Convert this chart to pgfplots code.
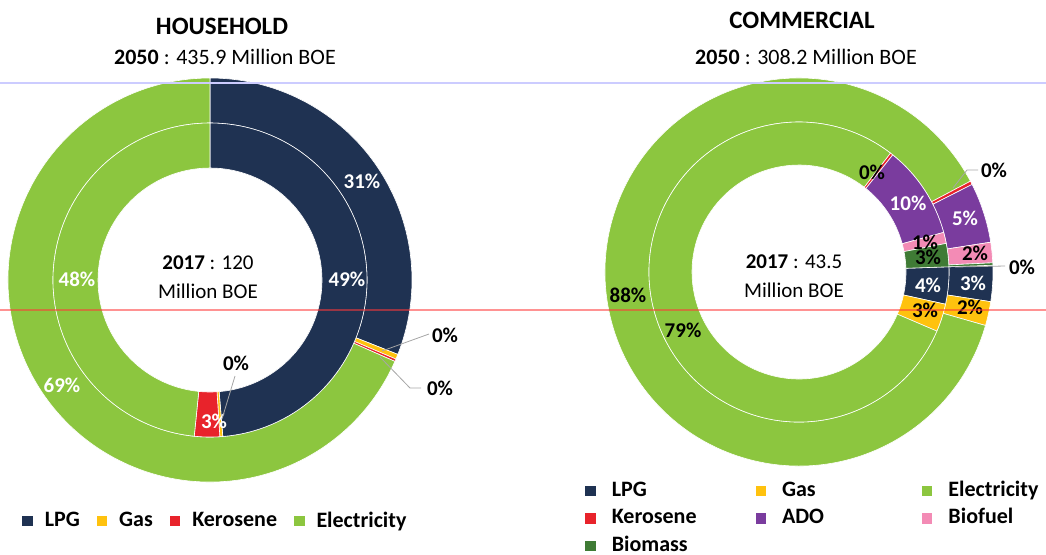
\documentclass[border=0pt]{standalone}
\usepackage{pgfplots}
\pgfplotsset{compat=1.18}
\usepackage{pgfplotstable}
\usepackage{fontspec}
\setmainfont{Carlito}

\definecolor{lpgc}{HTML}{1F3252}
\definecolor{gasc}{HTML}{FFC20E}
\definecolor{kerc}{HTML}{E8232B}
\definecolor{elec}{HTML}{8CC63F}
\definecolor{adoc}{HTML}{7A3C9E}
\definecolor{bioc}{HTML}{F38BB5}
\definecolor{bmsc}{HTML}{3F7B35}

% Household 2050 (outer ring) and 2017 (inner ring), shares in %
\pgfplotstableread{
value col
31.0 lpgc
0.4  gasc
0.2  kerc
68.4 elec
}\hhOuter
\pgfplotstableread{
value col
48.7 lpgc
0.3  gasc
2.6  kerc
48.4 elec
}\hhInner
% Commercial 2050 (outer) and 2017 (inner)
\pgfplotstableread{
value col
3.0  lpgc
2.0  gasc
87.8 elec
0.3  kerc
5.0  adoc
1.7  bioc
0.2  bmsc
}\coOuter
\pgfplotstableread{
value col
4.0  lpgc
3.0  gasc
79.0 elec
0.3  kerc
10.0 adoc
1.2  bioc
2.5  bmsc
}\coInner

% #1 table, #2 cx, #3 cy, #4 r inner, #5 r outer, #6 start angle (clockwise from north)
\newcommand\ring[6]{%
  \pgfplotstablegetrowsof{#1}\pgfmathtruncatemacro\nrows{\pgfplotsretval-1}%
  \xdef\cumang{#6}%
  \foreach \i in {0,...,\nrows}{%
    \pgfplotstablegetelem{\i}{value}\of{#1}\let\val\pgfplotsretval
    \pgfplotstablegetelem{\i}{col}\of{#1}\let\col\pgfplotsretval
    \pgfmathsetmacro\aone{\cumang}%
    \pgfmathsetmacro\atwo{\cumang+3.6*\val}%
    \xdef\cumang{\atwo}%
    \pgfmathsetmacro\sa{90-\aone}\pgfmathsetmacro\ea{90-\atwo}%
    \pgfmathsetmacro\px{#2+#5*cos(\sa)}\pgfmathsetmacro\py{#3-#5*sin(\sa)}%
    \pgfmathsetmacro\qx{#2+#4*cos(\ea)}\pgfmathsetmacro\qy{#3-#4*sin(\ea)}%
    \pgfmathsetmacro\ro{#5*0.5}\pgfmathsetmacro\ri{#4*0.5}%
    \edef\tmp{\noexpand\fill[\col, draw=white, line width=0.3pt] (axis cs:\px,\py) arc[start angle=\sa, end angle=\ea, radius=\ro pt] -- (axis cs:\qx,\qy) arc[start angle=\ea, end angle=\sa, radius=\ri pt] -- cycle;}%
    \tmp
  }%
}

\pgfplotsset{
  canvas/.style={x=0.5pt, y=0.5pt, xmin=0, xmax=1046, ymin=0, ymax=554,
    y dir=reverse, hide axis, clip=false,
    legend image code/.code={\fill[##1] (0pt,-2.6pt) rectangle (5.2pt,2.6pt);},
    legend cell align=left},
}
\tikzset{
  lab/.style={font=\fontsize{10.5}{12}\selectfont\bfseries, inner sep=0pt},
  wl/.style={lab, text=white},
  lead/.style={draw=gray!70, line width=0.4pt},
}

\begin{document}
\begin{tikzpicture}
% ---------------- HOUSEHOLD ----------------
\begin{axis}[canvas, name=hh, legend columns=4,
  legend style={at={(axis cs:16,521)}, anchor=west, draw=none, fill=none,
    font=\fontsize{11}{13}\selectfont\bfseries,
    /tikz/every odd column/.append style={column sep=4pt},
    /tikz/every even column/.append style={column sep=6.5pt}}]
\addlegendimage{fill=lpgc, draw=none}\addlegendentry{LPG}
\addlegendimage{fill=gasc, draw=none}\addlegendentry{Gas}
\addlegendimage{fill=kerc, draw=none}\addlegendentry{Kerosene}
\addlegendimage{fill=elec, draw=none}\addlegendentry{Electricity}
\ring{\hhOuter}{210}{280}{157}{202}{0}
\ring{\hhInner}{210}{280}{112}{157}{0}
\node[font=\fontsize{12.5}{15}\selectfont\bfseries] at (axis cs:222,26) {HOUSEHOLD};
\node[font=\fontsize{11}{13}\selectfont] at (axis cs:225,57) {\textbf{2050} : 435.9 Million BOE};
\node[font=\fontsize{10.5}{14.5}\selectfont, align=center] at (axis cs:208,277) {\textbf{2017} : 120\\Million BOE};
\node[wl] at (axis cs:362,181) {31\%};
\node[wl] at (axis cs:347,279) {49\%};
\node[wl] at (axis cs:77,279) {48\%};
\node[wl] at (axis cs:62,385) {69\%};
\node[wl] at (axis cs:214,421) {3\%};
\node[lab] at (axis cs:236,363) {0\%};
\draw[lead] (axis cs:235,376) -- (axis cs:222,419);
\node[lab] at (axis cs:445,335) {0\%};
\draw[lead] (axis cs:429,334) -- (axis cs:382,351);
\node[lab] at (axis cs:440,388) {0\%};
\draw[lead] (axis cs:421,388) -- (axis cs:410,388) -- (axis cs:380,357);
\path (axis cs:0,0) rectangle (axis cs:1046,554);
\end{axis}
% ---------------- COMMERCIAL ----------------
\begin{axis}[canvas, name=co, legend columns=3,
  legend style={at={(axis cs:579,473)}, anchor=north west, draw=none, fill=none,
    font=\fontsize{11}{13}\selectfont\bfseries, row sep=0pt,
    nodes={text height=7.5pt, text depth=2.2pt},
    /tikz/every odd column/.append style={column sep=6pt},
    /tikz/column 2/.style={column sep=27.5pt},
    /tikz/column 4/.style={column sep=47pt}}]
\addlegendimage{fill=lpgc, draw=none}\addlegendentry{LPG}
\addlegendimage{fill=gasc, draw=none}\addlegendentry{Gas}
\addlegendimage{fill=elec, draw=none}\addlegendentry{Electricity}
\addlegendimage{fill=kerc, draw=none}\addlegendentry{Kerosene}
\addlegendimage{fill=adoc, draw=none}\addlegendentry{ADO}
\addlegendimage{fill=bioc, draw=none}\addlegendentry{Biofuel}
\addlegendimage{fill=bmsc, draw=none}\addlegendentry{Biomass}
\ring{\coOuter}{799}{272}{150}{194}{88}
\ring{\coInner}{799}{272}{107}{150}{88}
\node[font=\fontsize{12.5}{15}\selectfont\bfseries] at (axis cs:802,20) {COMMERCIAL};
\node[font=\fontsize{11}{13}\selectfont] at (axis cs:806,57) {\textbf{2050} : 308.2 Million BOE};
\node[font=\fontsize{10.5}{14.5}\selectfont, align=center] at (axis cs:794,276) {\textbf{2017} : 43.5\\Million BOE};
\node[lab] at (axis cs:872,172) {0\%};
\node[wl] at (axis cs:908,203) {10\%};
\node[wl] at (axis cs:965,218) {5\%};
\node[lab] at (axis cs:994,170) {0\%};
\draw[lead] (axis cs:978,170) -- (axis cs:967,170) -- (axis cs:953,188);
\node[lab] at (axis cs:925,242) {1\%};
\node[lab] at (axis cs:928,257) {3\%};
\node[lab] at (axis cs:975,253) {2\%};
\node[lab] at (axis cs:1022,267) {0\%};
\draw[lead] (axis cs:1005,266) -- (axis cs:955,267);
\node[wl] at (axis cs:928,285) {4\%};
\node[wl] at (axis cs:973,283) {3\%};
\node[lab] at (axis cs:925,310) {3\%};
\node[lab] at (axis cs:970,307) {2\%};
\node[lab] at (axis cs:628,295) {88\%};
\node[lab] at (axis cs:683,330) {79\%};
% faint ruled lines of the scanned page
\draw[blue!20, line width=0.6pt] (axis cs:0,83) -- (axis cs:1046,83);
\draw[red!70!pink, opacity=0.55, line width=0.7pt] (axis cs:0,310) -- (axis cs:1046,310);
\end{axis}
\pgfresetboundingbox
\path (hh.south west) rectangle (hh.north east);
\end{tikzpicture}
\end{document}
